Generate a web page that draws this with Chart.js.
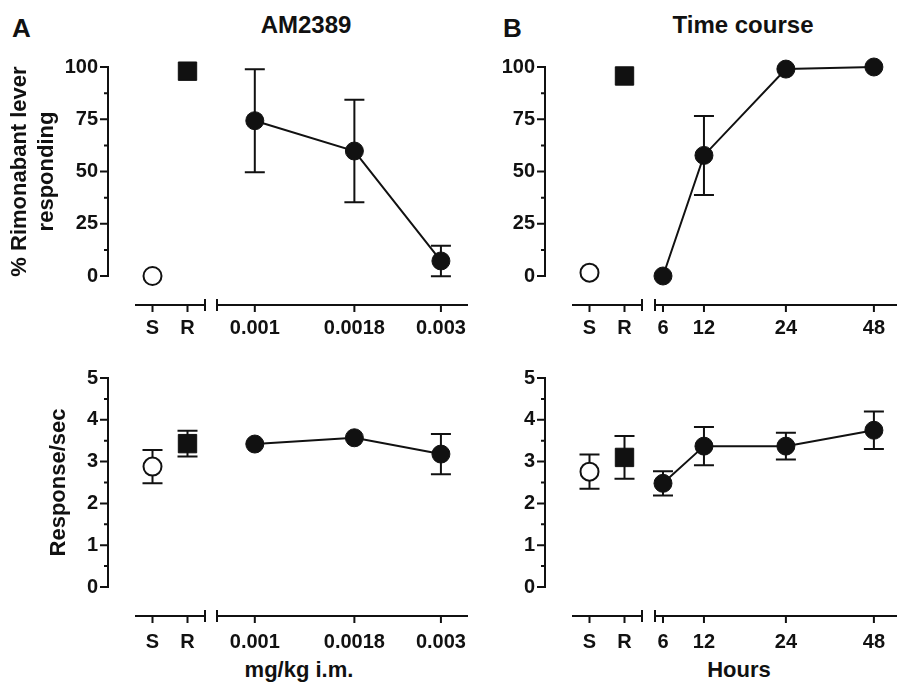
<!DOCTYPE html>
<html>
<head>
<meta charset="utf-8">
<script src="https://cdn.jsdelivr.net/npm/chart.js@4.4.1/dist/chart.umd.min.js"></script>
<style>
  html, body { margin: 0; padding: 0; background: #fff; overflow: hidden; }
  body { width: 899px; height: 683px; position: relative; font-family: "Liberation Sans", Arial, sans-serif; color: #111; }
  .box { position: absolute; }
  .lbl { position: absolute; font-weight: bold; line-height: 1; white-space: nowrap; }
  .mid { transform: translateX(-50%); }
</style>
</head>
<body>
<div class="lbl" style="left:12px;top:15px;font-size:26px">A</div>
<div class="lbl" style="left:503px;top:15px;font-size:26px">B</div>
<div class="lbl mid" style="left:306px;top:13px;font-size:24px">AM2389</div>
<div class="lbl mid" style="left:743px;top:13px;font-size:24px">Time course</div>
<div class="lbl mid" style="left:299px;top:659px;font-size:22px">mg/kg i.m.</div>
<div class="lbl mid" style="left:739px;top:659px;font-size:22px">Hours</div>

<div class="box" style="left:0px;top:37px;width:220px;height:309px"><canvas id="amPctCtl"></canvas></div>
<div class="box" style="left:202px;top:37px;width:281px;height:309px"><canvas id="amPctDose"></canvas></div>
<div class="box" style="left:440px;top:37px;width:217px;height:309px"><canvas id="tcPctCtl"></canvas></div>
<div class="box" style="left:640px;top:37px;width:259px;height:309px"><canvas id="tcPctHours"></canvas></div>

<div class="box" style="left:0px;top:348px;width:220px;height:309px"><canvas id="amRateCtl"></canvas></div>
<div class="box" style="left:202px;top:348px;width:281px;height:309px"><canvas id="amRateDose"></canvas></div>
<div class="box" style="left:440px;top:348px;width:217px;height:309px"><canvas id="tcRateCtl"></canvas></div>
<div class="box" style="left:640px;top:348px;width:259px;height:309px"><canvas id="tcRateHours"></canvas></div>

<script>
// categories and tick labels
const controlLabels = ["S", "R"];
const doses = [0.001, 0.0018, 0.003];
const doseTickLabels = ["0.001", "0.0018", "0.003"];
const hours = [6, 12, 24, 48];
const hourTickLabels = ["6", "12", "24", "48"];
const pctTicks = [0, 25, 50, 75, 100];
const rateTicks = [0, 1, 2, 3, 4, 5];

// A: AM2389 dose response, % rimonabant lever responding (mean, SEM)
const amPctControls = [0, 98];
const amPctControlSem = [null, null];
const amPctDoseMean = [74.3, 59.8, 7.2];
const amPctDoseSem = [24.6, 24.5, 7.3];
// A: response rate
const amRateControls = [2.88, 3.43];
const amRateControlSem = [0.40, 0.31];
const amRateDoseMean = [3.42, 3.57, 3.18];
const amRateDoseSem = [null, null, 0.48];

// B: time course, % rimonabant lever responding
const tcPctControls = [1.6, 95.7];
const tcPctControlSem = [null, null];
const tcPctHoursMean = [0, 57.7, 99.0, 100];
const tcPctHoursSem = [null, 18.9, null, null];
// B: response rate
const tcRateControls = [2.76, 3.10];
const tcRateControlSem = [0.41, 0.51];
const tcRateHoursMean = [2.48, 3.37, 3.37, 3.75];
const tcRateHoursSem = [0.29, 0.46, 0.32, 0.45];

const INK = "#111";
const FONT = "'Liberation Sans', Arial, sans-serif";
const TICK_FONT = { family: FONT, size: 20, weight: "bold" };
const TITLE_FONT = { family: FONT, size: 22, weight: "bold", lineHeight: 1.2 };
const Y_GAP = 27;   // y axis sits left of the plot area
const X_GAP = 29;   // x axis sits below the plot area
const CAP = 10;     // half width of error bar caps

Chart.defaults.font.family = FONT;
Chart.defaults.color = INK;

// hours axis: linear up to 24 h, compressed after that (as in the figure)
const HOUR_KNEE = 24;
const HOUR_SQUEEZE = 0.537;
class BrokenHourScale extends Chart.LinearScale {
  static id = "brokenHour";
  static defaults = {};
  warp(v) {
    return v <= HOUR_KNEE ? v : HOUR_KNEE + (v - HOUR_KNEE) * HOUR_SQUEEZE;
  }
  getPixelForValue(value) {
    if (value === null || value === undefined || isNaN(value)) return NaN;
    const a = this.warp(this.min), b = this.warp(this.max);
    return this.getPixelForDecimal((this.warp(value) - a) / (b - a));
  }
  getValueForPixel(pixel) {
    const a = this.warp(this.min), b = this.warp(this.max);
    const t = a + this.getDecimalForPixel(pixel) * (b - a);
    return t <= HOUR_KNEE ? t : HOUR_KNEE + (t - HOUR_KNEE) / HOUR_SQUEEZE;
  }
}
Chart.register(BrokenHourScale);

// detached Prism-style axes: y line with minor ticks, x segment with end bars
const prismAxes = {
  id: "prismAxes",
  beforeDatasetsDraw(chart, args, opts) {
    const { ctx, chartArea: a, scales: { x, y } } = chart;
    ctx.save();
    ctx.strokeStyle = INK;
    ctx.lineWidth = 2;
    ctx.beginPath();
    if (opts.yAxis) {
      const ax = a.left - Y_GAP;
      const vals = y.ticks.map(t => t.value);
      ctx.moveTo(ax, y.getPixelForValue(vals[0]) + 1);
      ctx.lineTo(ax, y.getPixelForValue(vals[vals.length - 1]) - 1);
      vals.forEach((v, i) => {
        const py = y.getPixelForValue(v);
        ctx.moveTo(ax - 8, py);
        ctx.lineTo(ax, py);
        if (i > 0) {
          const pm = y.getPixelForValue((v + vals[i - 1]) / 2);
          ctx.moveTo(ax - 4, pm);
          ctx.lineTo(ax, pm);
        }
      });
    }
    const by = a.bottom + X_GAP;
    ctx.moveTo(a.left, by);
    ctx.lineTo(a.right, by);
    x.ticks.forEach((t, i) => {
      const px = x.getPixelForTick(i);
      ctx.moveTo(px, by);
      ctx.lineTo(px, by + 7);
    });
    if (opts.barLeft) { ctx.moveTo(a.left, by - 6); ctx.lineTo(a.left, by + 6); }
    if (opts.barRight) { ctx.moveTo(a.right, by - 6); ctx.lineTo(a.right, by + 6); }
    ctx.stroke();
    ctx.restore();
  }
};

// SEM bars from each dataset's sem array
const errorBars = {
  id: "errorBars",
  beforeDatasetsDraw(chart) {
    const { ctx, scales: { y } } = chart;
    ctx.save();
    ctx.strokeStyle = INK;
    ctx.lineWidth = 2;
    chart.data.datasets.forEach((ds, di) => {
      if (!ds.sem) return;
      chart.getDatasetMeta(di).data.forEach((pt, i) => {
        const s = ds.sem[i];
        if (s == null) return;
        const v = ds.data[i].y;
        const top = y.getPixelForValue(v + s);
        const bot = y.getPixelForValue(v - s);
        ctx.beginPath();
        ctx.moveTo(pt.x, top); ctx.lineTo(pt.x, bot);
        ctx.moveTo(pt.x - CAP, top); ctx.lineTo(pt.x + CAP, top);
        ctx.moveTo(pt.x - CAP, bot); ctx.lineTo(pt.x + CAP, bot);
        ctx.stroke();
      });
    });
    ctx.restore();
  }
};

const yScale = (ticks, width, title, titlePad) => ({
  display: width > 0,
  min: ticks[0],
  max: ticks[ticks.length - 1],
  afterBuildTicks: s => { s.ticks = ticks.map(v => ({ value: v })); },
  afterFit: s => { s.width = width; s.paddingTop = 0; s.paddingBottom = 0; },
  grid: { display: false, drawTicks: false },
  border: { display: false },
  ticks: { padding: 37, font: TICK_FONT, color: INK, autoSkip: false },
  title: title
    ? { display: true, text: title, font: TITLE_FONT, color: INK, padding: { top: titlePad, bottom: 0 } }
    : { display: false }
});

const xFit = s => { s.height = 70; s.paddingLeft = 0; s.paddingRight = 0; };
const xTicks = pad => ({ padding: pad, font: TICK_FONT, color: INK, autoSkip: false, maxRotation: 0 });
const xCommon = pad => ({
  afterFit: xFit,
  grid: { display: false, drawTicks: false },
  border: { display: false },
  ticks: xTicks(pad)
});

const baseOptions = (padding, scales, axesOpts) => ({
  responsive: true,
  maintainAspectRatio: false,
  animation: false,
  events: [],
  layout: { padding, autoPadding: false },
  scales,
  plugins: { legend: { display: false }, tooltip: { enabled: false }, prismAxes: axesOpts }
});

const point = (style, radius, fill, border) => ({
  showLine: false,
  clip: false,
  pointStyle: style,
  pointRadius: radius,
  pointBackgroundColor: fill,
  pointBorderColor: INK,
  pointBorderWidth: border
});

function controlChart(id, vals, sems, ticks, labelPad, yWidth, title, titlePad) {
  return new Chart(document.getElementById(id), {
    type: "line",
    data: {
      labels: controlLabels,
      datasets: [
        { data: [{ x: controlLabels[0], y: vals[0] }], sem: [sems[0]], ...point("circle", 9, "#fff", 2) },
        { data: [{ x: controlLabels[1], y: vals[1] }], sem: [sems[1]], ...point("rect", 13, INK, 1) }
      ]
    },
    options: baseOptions(
      { top: 30, bottom: 0, left: 0, right: 15 },
      {
        x: { type: "category", offset: true, ...xCommon(labelPad) },
        y: yScale(ticks, yWidth, title, titlePad)
      },
      { yAxis: true, barRight: true }
    ),
    plugins: [prismAxes, errorBars]
  });
}

function seriesChart(id, xs, vals, sems, ticks, labelPad, xScale, padding) {
  return new Chart(document.getElementById(id), {
    type: "line",
    data: {
      datasets: [{
        data: xs.map((x, i) => ({ x, y: vals[i] })),
        sem: sems,
        ...point("circle", 9, INK, 1),
        showLine: true,
        borderColor: INK,
        borderWidth: 2
      }]
    },
    options: baseOptions(
      padding,
      { x: { ...xCommon(labelPad), ...xScale(labelPad) }, y: yScale(ticks, 0) },
      { yAxis: false, barLeft: true }
    ),
    plugins: [prismAxes, errorBars]
  });
}

const doseAxis = pad => ({
  type: "logarithmic",
  min: 0.0008,
  max: 0.00352,
  afterBuildTicks: s => { s.ticks = doses.map(v => ({ value: v })); },
  ticks: { ...xTicks(pad), callback: (v, i) => doseTickLabels[i] }
});
const hourAxis = pad => ({
  type: "brokenHour",
  min: 4.83,
  max: 54.3,
  bounds: "data",
  afterBuildTicks: s => { s.ticks = hours.map(v => ({ value: v })); },
  ticks: { ...xTicks(pad), callback: (v, i) => hourTickLabels[i] }
});

const pctTitle = ["% Rimonabant lever", "responding"];

controlChart("amPctCtl", amPctControls, amPctControlSem, pctTicks, 40, 135, pctTitle, 7);
seriesChart("amPctDose", doses, amPctDoseMean, amPctDoseSem, pctTicks, 40, doseAxis,
  { top: 30, bottom: 0, left: 15, right: 15 });
controlChart("tcPctCtl", tcPctControls, tcPctControlSem, pctTicks, 40, 132, null, 0);
seriesChart("tcPctHours", hours, tcPctHoursMean, tcPctHoursSem, pctTicks, 40, hourAxis,
  { top: 30, bottom: 0, left: 15, right: 2 });

controlChart("amRateCtl", amRateControls, amRateControlSem, rateTicks, 43, 135, "Response/sec", 46);
seriesChart("amRateDose", doses, amRateDoseMean, amRateDoseSem, rateTicks, 43, doseAxis,
  { top: 30, bottom: 0, left: 15, right: 15 });
controlChart("tcRateCtl", tcRateControls, tcRateControlSem, rateTicks, 43, 132, null, 0);
seriesChart("tcRateHours", hours, tcRateHoursMean, tcRateHoursSem, rateTicks, 43, hourAxis,
  { top: 30, bottom: 0, left: 15, right: 2 });
</script>
</body>
</html>
